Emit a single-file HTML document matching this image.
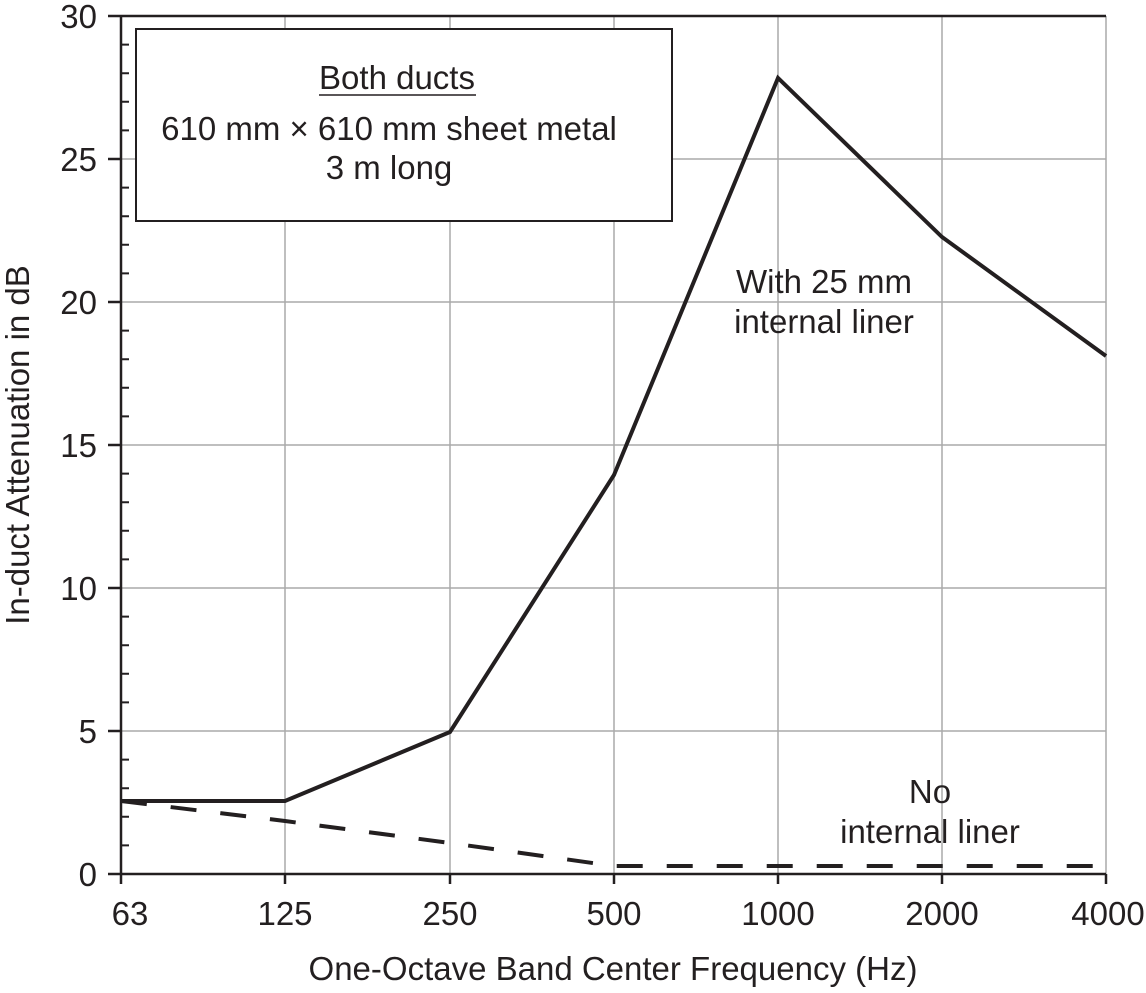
<!DOCTYPE html><html><head><style>body{margin:0;background:#fff}</style></head><body>
<svg width="1146" height="988" xmlns="http://www.w3.org/2000/svg" font-family="Liberation Sans, Arial, sans-serif" fill="#231f20">
<g stroke="#aaa" stroke-width="1.5">
<line x1="285" y1="16" x2="285" y2="874"/><line x1="450" y1="16" x2="450" y2="874"/><line x1="614" y1="16" x2="614" y2="874"/><line x1="778" y1="16" x2="778" y2="874"/><line x1="942" y1="16" x2="942" y2="874"/><line x1="1106" y1="16" x2="1106" y2="874"/>
<line x1="121" y1="159" x2="1106" y2="159"/><line x1="121" y1="302" x2="1106" y2="302"/><line x1="121" y1="445" x2="1106" y2="445"/><line x1="121" y1="588" x2="1106" y2="588"/><line x1="121" y1="731" x2="1106" y2="731"/>
</g>
<g stroke="#231f20" stroke-width="2.5">
<line x1="108" y1="16" x2="1106" y2="16"/><line x1="108" y1="874" x2="1106" y2="874"/><line x1="121" y1="16" x2="121" y2="884"/>
<line x1="108" y1="159" x2="121" y2="159"/><line x1="108" y1="302" x2="121" y2="302"/><line x1="108" y1="445" x2="121" y2="445"/><line x1="108" y1="588" x2="121" y2="588"/><line x1="108" y1="731" x2="121" y2="731"/>
<line x1="285" y1="874" x2="285" y2="884"/><line x1="450" y1="874" x2="450" y2="884"/><line x1="614" y1="874" x2="614" y2="884"/><line x1="778" y1="874" x2="778" y2="884"/><line x1="942" y1="874" x2="942" y2="884"/><line x1="1106" y1="874" x2="1106" y2="884"/>
</g>
<path stroke="#231f20" stroke-width="2" d="M121 44.6h8M121 73.2h8M121 101.8h8M121 130.4h8M121 187.6h8M121 216.2h8M121 244.8h8M121 273.4h8M121 330.6h8M121 359.2h8M121 387.8h8M121 416.4h8M121 473.6h8M121 502.2h8M121 530.8h8M121 559.4h8M121 616.6h8M121 645.2h8M121 673.8h8M121 702.4h8M121 759.6h8M121 788.2h8M121 816.8h8M121 845.4h8"/>
<rect x="136" y="29" width="536" height="192" fill="#fff" stroke="#231f20" stroke-width="2"/>
<text x="397" y="89" font-size="33" text-anchor="middle">Both ducts</text>
<line x1="319" y1="95" x2="476" y2="95" stroke="#231f20" stroke-width="1.5"/>
<text x="389" y="140" font-size="33" text-anchor="middle">610 mm × 610 mm sheet metal</text>
<text x="389" y="179" font-size="33" text-anchor="middle">3 m long</text>
<polyline fill="none" stroke="#231f20" stroke-width="4" points="121,801 285,801 450,732 614,475 778,78 942,237 1106,356"/>
<polyline fill="none" stroke="#231f20" stroke-width="4" stroke-dasharray="26,24" points="121,801 285,821 450,843 614,866 1106,866"/>
<text x="824" y="293" font-size="33" text-anchor="middle">With 25 mm</text>
<text x="824" y="333" font-size="33" text-anchor="middle">internal liner</text>
<text x="930" y="803" font-size="33" text-anchor="middle">No</text>
<text x="930" y="843" font-size="33" text-anchor="middle">internal liner</text>
<g font-size="33" text-anchor="end">
<text x="97" y="28">30</text><text x="97" y="171">25</text><text x="97" y="314">20</text><text x="97" y="457">15</text><text x="97" y="600">10</text><text x="97" y="743">5</text><text x="97" y="886">0</text>
</g>
<g font-size="33" text-anchor="middle">
<text x="130" y="925">63</text><text x="285" y="925">125</text><text x="450" y="925">250</text><text x="614" y="925">500</text><text x="778" y="925">1000</text><text x="942" y="925">2000</text><text x="1108" y="925">4000</text>
<text x="613" y="980">One-Octave Band Center Frequency (Hz)</text>
<text transform="translate(29,445) rotate(-90)">In-duct Attenuation in dB</text>
</g>
</svg></body></html>
